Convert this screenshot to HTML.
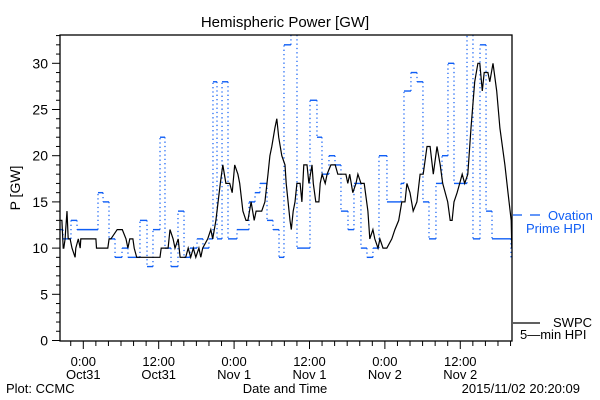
<!DOCTYPE html>
<html><head><meta charset="utf-8"><style>
body{margin:0;background:#fff}
svg{display:block;font-family:"Liberation Sans",sans-serif}
</style></head><body>
<svg id="chart" width="600" height="400" xmlns="http://www.w3.org/2000/svg">
<rect width="600" height="400" fill="#fff"/>
<text x="285" y="27" font-size="15" text-anchor="middle">Hemispheric Power [GW]</text>
<text transform="translate(20,188) rotate(-90)" font-size="14" text-anchor="middle">P [GW]</text>
<text x="285" y="393" font-size="13" text-anchor="middle">Date and Time</text>
<text x="6" y="393" font-size="13">Plot: CCMC</text>
<text x="580" y="393" font-size="13" text-anchor="end">2015/11/02 20:20:09</text>
<g id="grid"></g>
<g id="series"></g>
<rect x="60" y="35" width="452" height="306" fill="none" stroke="#000" stroke-width="1.3"/>
<g>
<line x1="513" y1="215" x2="522" y2="215" stroke="#0f5ef5" stroke-width="1.3"/>
<line x1="530" y1="215" x2="540" y2="215" stroke="#0f5ef5" stroke-width="1.3"/>
<text x="548" y="220" font-size="13" fill="#0f5ef5">Ovation</text>
<text x="526" y="233" font-size="13" fill="#0f5ef5">Prime HPI</text>
</g>
<g>
<line x1="513" y1="323" x2="540" y2="323" stroke="#000" stroke-width="1.3"/>
<text x="553" y="327" font-size="13">SWPC</text>
<text x="520" y="339" font-size="13">5—min HPI</text>
</g>
</svg>
<script>
const yTicks=[0,5,10,15,20,25,30];
const xTickHours=[0,12,24,36,48,60];
const xTickTimes=["0:00","12:00","0:00","12:00","0:00","12:00"];
const xTickDates=["Oct31","Oct31","Nov 1","Nov 1","Nov 2","Nov 2"];
const ovStart=[-3.7,-3.23,-1.96,-1.0,2.34,3.14,4.09,5.05,6.16,7.11,9.02,10.14,11.09,12.21,13.0,13.96,15.07,16.03,16.98,18.1,19.05,20.0,20.64,21.28,22.08,23.03,24.46,26.37,27.33,28.12,29.24,30.19,31.15,31.94,33.05,34.01,36.08,37.19,37.99,39.1,40.06,41.01,42.13,43.08,44.19,45.15,46.1,47.06,48.33,50.56,51.04,52.15,53.11,54.06,55.02,56.13,57.09,58.04,59.0,61.07,62.02,63.14,64.1,65.05];
const ovValue=[12,11,13,12,16,15,11,9,10,9,13,8,12,22,10,8,14,9,10,11,10,11,28,11,28,11,12,15,16,17,13,12,9,32,34,10,26,22,18,20,19,14,12,17,10,9,10,20,15,17,27,29,28,15,11,17,20,30,17,34,11,32,14,11];
const ovEnd=68.07, ovEndValue=9;
const swpcHour=[-3.7,-3.4,-3.2,-3.1,-2.9,-2.8,-2.6,-2.4,-2.1,-1.8,-1.3,-1.2,-0.8,-0.5,-0.4,2.0,2.1,3.9,4.1,4.4,5.4,6.2,6.8,7.1,7.4,7.9,8.1,8.5,12.2,12.4,13.5,13.8,14.3,14.6,15.1,15.4,16.3,16.7,17.1,17.5,17.9,18.4,18.7,19.0,19.8,20.3,20.6,21.1,21.8,22.2,22.7,23.3,23.7,24.1,24.6,24.9,25.4,25.9,26.2,26.7,27.2,27.5,28.4,28.9,29.4,29.7,30.0,30.5,30.8,31.1,31.6,32.1,32.3,32.6,32.9,33.1,33.4,33.7,34.0,34.5,34.8,35.1,35.6,35.9,36.4,36.6,37.0,37.5,37.7,38.0,38.5,38.8,39.4,40.1,40.5,41.8,42.1,42.4,42.9,43.4,43.7,44.2,44.7,45.3,45.6,46.1,46.4,46.9,47.2,47.7,48.3,49.1,49.6,50.2,50.7,51.2,51.5,52.0,52.5,53.1,53.6,54.1,54.7,55.2,55.7,56.3,56.8,57.2,58.0,58.4,58.7,59.0,59.5,59.9,60.3,60.7,61.2,61.7,62.3,62.8,63.1,63.5,63.8,64.4,64.7,65.2,65.8,66.3,67.1,67.6,68.1,68.2];
const swpcValue=[13,13,10,10,11,12,14,11,11,10,9,10,11,10,11,11,10,10,11,11,12,12,11,10,11,11,10,9,9,10,10,12,11,10,11,9,9,10,9,10,9,10,9,10,11,12,11,13,17,19,17,17,16,19,18,17,14,13,13,15,13,14,14,15,18,20,21,23,24,22,20,19,17,15,13,12,14,15,17,17,15,19,19,17,19,17,15,15,17,18,17,18,19,19,18,18,17,18,16,17,18,17,17,14,11,12,11,10,11,10,10,11,12,13,15,15,17,16,14,15,18,18,21,21,18,21,19,17,15,13,13,15,16,17,18,17,18,23,28,30,30,27,29,29,28,30,27,23,19,16,13,10];

const NS="http://www.w3.org/2000/svg";
const L=60,R=512,T=35,B=341;
function xs(h){return 83.3+6.283*h;}
function ys(v){return 340.5-9.24*v;}
function mk(tag,attrs,parent){const e=document.createElementNS(NS,tag);for(const k in attrs)e.setAttribute(k,attrs[k]);parent.appendChild(e);return e;}
const grid=document.getElementById('grid');
const series=document.getElementById('series');
for(let v=0;v<=33;v++){
  const major=v%5===0;
  const t=mk('line',{x1:major?52:56,x2:L,y1:ys(v),y2:ys(v),stroke:'#000','stroke-width':1},grid);
  
  
}
yTicks.forEach(v=>{
  const t=mk('text',{x:48,y:ys(v)+5,'font-size':14,'text-anchor':'end'},grid);
  t.textContent=String(v);
  
  
});
for(let h=-2;h<=68;h+=2){
  const x=xs(h); if(x<L||x>R)continue;
  const major=h%12===0;
  const t=mk('line',{x1:x,x2:x,y1:B,y2:B+(major?8:5),stroke:'#000','stroke-width':1},grid);
  
  
}
xTickHours.forEach((h,i)=>{
  const a=mk('text',{x:xs(h),y:366,'font-size':13,'text-anchor':'middle'},grid);
  a.textContent=xTickTimes[i];
  
  
  const b=mk('text',{x:xs(h),y:379,'font-size':13,'text-anchor':'middle'},grid);
  b.textContent=xTickDates[i];
  
  
});
const defs=mk('defs',{},series);
const cp=mk('clipPath',{id:'pc'},defs);
mk('rect',{x:L,y:T,width:R-L,height:B-T},cp);
const g=mk('g',{'clip-path':'url(#pc)'},series);
for(let i=0;i<ovStart.length;i++){
  const x1=xs(ovStart[i]);
  const x2=xs(i+1<ovStart.length?ovStart[i+1]:ovEnd);
  const y=ys(ovValue[i]);
  const h=mk('line',{x1:x1,x2:x2,y1:y,y2:y,stroke:'#0f5ef5','stroke-width':1.4},g);
  
  
  const nv=i+1<ovValue.length?ovValue[i+1]:ovEndValue;
  const v=mk('line',{x1:x2,x2:x2,y1:y,y2:ys(nv),stroke:'#0f5ef5','stroke-width':1.2,'stroke-dasharray':'1.3,3'},g);
  
  
}
const pts=swpcHour.map((h,i)=>xs(h).toFixed(1)+','+ys(swpcValue[i]).toFixed(1)).join(' ');
const pl=mk('polyline',{points:pts,fill:'none',stroke:'#000','stroke-width':1.2},g);


</script>
</body></html>
